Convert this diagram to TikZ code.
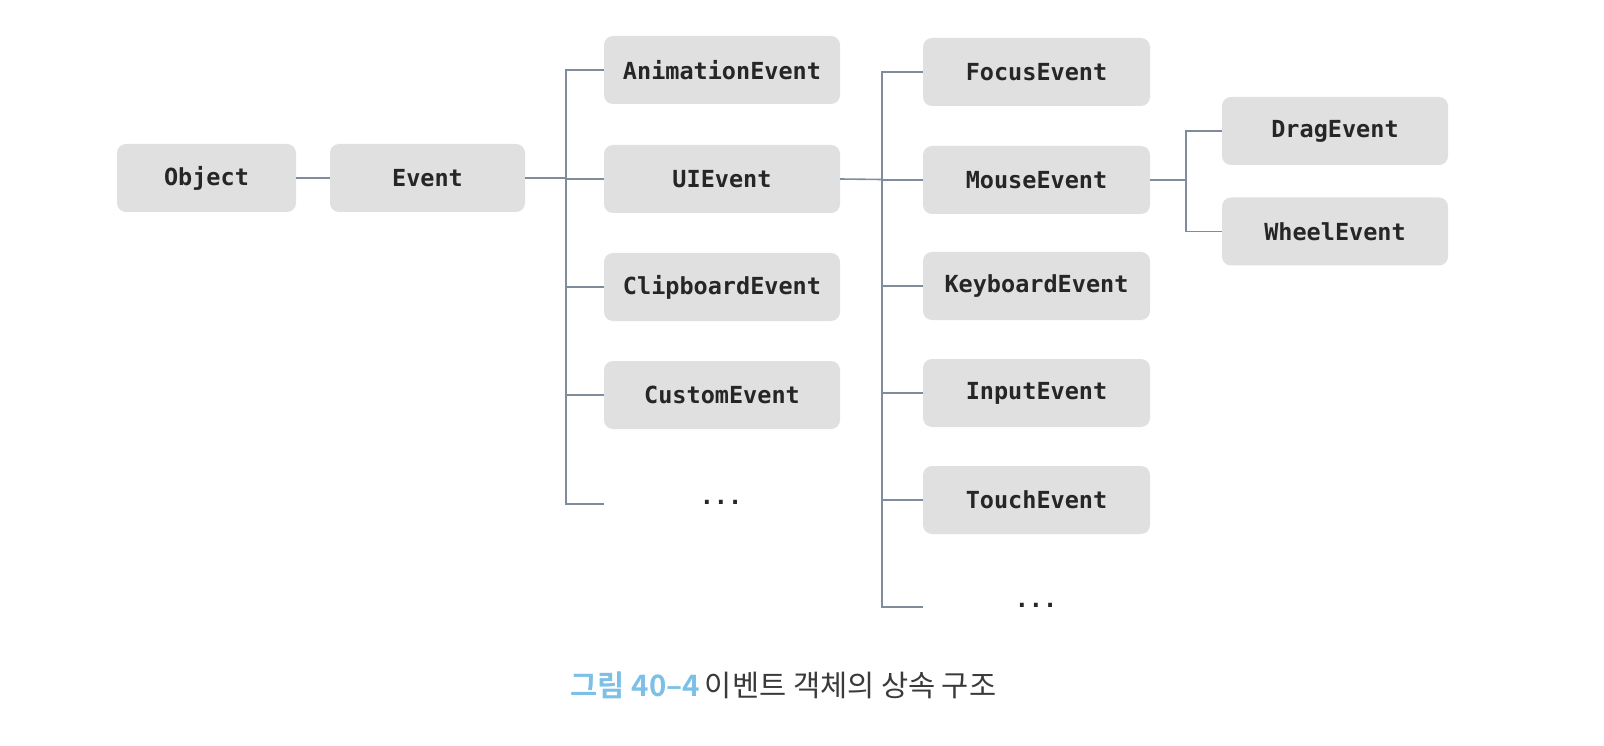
\documentclass[tikz,border=0pt]{standalone}
\usepackage{fontspec}
\setmonofont{DejaVu Sans Mono}
\newfontfamily\krfont{Noto Sans CJK KR}
\newfontfamily\krbold{Noto Sans CJK KR Bold}
\definecolor{boxfill}{HTML}{E0E0E0}
\definecolor{linec}{HTML}{7F8C9C}
\definecolor{txt}{HTML}{262626}
\definecolor{capblue}{HTML}{7CC0E8}
\definecolor{capgray}{HTML}{3A3A3A}
\begin{document}
\begin{tikzpicture}[x=1pt,y=-1pt,
  cls/.style={draw=none,fill=boxfill,rounded corners=9pt,minimum height=68pt,
    inner sep=0pt,font=\fontsize{23.5}{26}\selectfont\ttfamily\bfseries,text=txt},
  conn/.style={draw=linec,line width=1.6pt},
  dotsn/.style={font=\fontsize{23.5}{26}\selectfont\ttfamily\bfseries,text=txt}]
\useasboundingbox (0,0) rectangle (1604,746);
% level 0/1
\node[cls,minimum width=179pt] (object) at (206.5,178) {Object};
\node[cls,minimum width=195pt] (event) at (427.5,178) {Event};
% level 2
\node[cls,minimum width=236pt] (anim) at (722,70) {AnimationEvent};
\node[cls,minimum width=236pt] (ui) at (722,179) {UIEvent};
\node[cls,minimum width=236pt] (clip) at (722,287) {ClipboardEvent};
\node[cls,minimum width=236pt] (custom) at (722,395) {CustomEvent};
\node[dotsn] (dotsA) at (721,502) {...};
\coordinate (stubA) at (604,504);
% level 3
\node[cls,minimum width=227pt] (focus) at (1036.5,72) {FocusEvent};
\node[cls,minimum width=227pt] (mouse) at (1036.5,180) {MouseEvent};
\node[cls,minimum width=227pt] (key) at (1036.5,286) {KeyboardEvent};
\node[cls,minimum width=227pt] (input) at (1036.5,393) {InputEvent};
\node[cls,minimum width=227pt] (touch) at (1036.5,500) {TouchEvent};
\node[dotsn] (dotsB) at (1036,605) {...};
\coordinate (stubB) at (923,607);
% level 4
\node[cls,minimum width=226pt] (drag) at (1335,131) {DragEvent};
\node[cls,minimum width=226pt] (wheel) at (1335,231.5) {WheelEvent};
% junctions
\coordinate (jA) at (566,178);
\coordinate (jB) at (882,179.5);
\coordinate (jC) at (1186,180);
% connectors
\draw[conn] (object.east) -- (event.west);
\draw[conn] (event.east) -- (jA);
\draw[conn] (anim.west) -| (jA);
\draw[conn] (ui.west) -- (ui.west -| jA);
\draw[conn] (clip.west) -| (jA);
\draw[conn] (custom.west) -| (jA);
\draw[conn] (stubA) -| (jA);
\draw[conn] (ui.east) -- (jB);
\draw[conn] (focus.west) -| (jB);
\draw[conn] (mouse.west) -- (mouse.west -| jB);
\draw[conn] (key.west) -| (jB);
\draw[conn] (input.west) -| (jB);
\draw[conn] (touch.west) -| (jB);
\draw[conn] (stubB) -| (jB);
\draw[conn] (mouse.east) -- (jC);
\draw[conn] (drag.west) -| (jC);
\draw[conn] (wheel.west) -| (jC);
% caption
\node[anchor=center,inner sep=0pt] (caption) at (783.5,685)
  {\fontsize{29.5}{33}\selectfont{\krbold\color{capblue}그림 40–4}\,{\krfont\color{capgray} 이벤트 객체의 상속 구조}};
\end{tikzpicture}
\end{document}
